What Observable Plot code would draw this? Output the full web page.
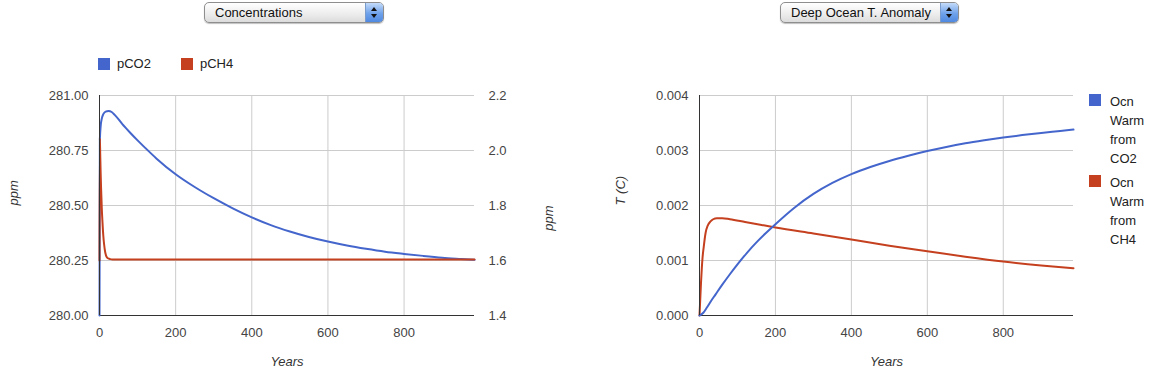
<!DOCTYPE html>
<html>
<head>
<meta charset="utf-8">
<script src="https://cdn.jsdelivr.net/npm/d3@7"></script>
<script src="https://cdn.jsdelivr.net/npm/@observablehq/plot@0.6"></script>
<style>
  html, body { margin: 0; padding: 0; background: #fff; }
  body { width: 1160px; height: 384px; position: relative; overflow: hidden;
         font-family: "Liberation Sans", Arial, sans-serif; color: #333; }
  .sel { position: absolute; top: 2px; height: 19px; border: 1px solid #8e8e8e;
         border-radius: 5px; background: linear-gradient(#ffffff, #ececec 60%, #dcdcdc);
         font-size: 13px; box-shadow: 0 1px 1px rgba(0,0,0,0.25); }
  .sel .txt { position: absolute; left: 10px; top: 2px; color: #111; white-space: nowrap; }
  .sel .btn { position: absolute; right: 0; top: 0; bottom: 0; width: 17px;
              background: linear-gradient(#c4dbfa, #6fa2ea 55%, #4f89e0);
              border-left: 1px solid #7a9ccc; border-radius: 0 4px 4px 0; }
  .sel .up, .sel .dn { position: absolute; left: 5px; width: 0; height: 0;
              border-left: 3.5px solid transparent; border-right: 3.5px solid transparent; }
  .sel .up { top: 4px; border-bottom: 4px solid #111; }
  .sel .dn { top: 11px; border-top: 4px solid #111; }
  .chart { position: absolute; top: 80px; }
  .lg { position: absolute; font-size: 13px; color: #222; }
  .sw { position: absolute; width: 12px; height: 12px; }
  .lgtext { position: absolute; font-size: 13px; line-height: 19px; color: #222; }
</style>
</head>
<body>
<div class="sel" style="left:204px;width:178px;"><span class="txt">Concentrations</span><div class="btn"><div class="up"></div><div class="dn"></div></div></div>
<div class="sel" style="left:780px;width:177px;"><span class="txt">Deep Ocean T. Anomaly</span><div class="btn"><div class="up"></div><div class="dn"></div></div></div>

<div id="legendL"></div>
<div id="legendR"></div>
<div id="left" class="chart" style="left:0px;"></div>
<div id="right" class="chart" style="left:600px;"></div>

<script>
// ---- Data ----
const seriesNamesLeft = ["pCO2", "pCH4"];
const seriesNamesRight = ["Ocn Warm from CO2", "Ocn Warm from CH4"];
const colors = ["#4466cc", "#c4401f"];

const co2Years = [0, 1, 3, 6, 10, 16, 24, 32, 40, 60, 80, 100, 120, 150, 200, 250, 300, 350, 400, 450, 500, 550, 600, 650, 700, 750, 800, 850, 900, 950, 985];
const co2Ppm   = [280.00, 280.80, 280.86, 280.895, 280.915, 280.927, 280.930, 280.925, 280.912, 280.87, 280.832, 280.796, 280.762, 280.713, 280.642, 280.584, 280.533, 280.487, 280.446, 280.411, 280.382, 280.357, 280.336, 280.318, 280.303, 280.29, 280.28, 280.271, 280.263, 280.257, 280.253];

const ch4Years = [0, 1, 2, 3, 4, 5, 6, 8, 10, 12, 15, 18, 22, 28, 35, 50, 200, 400, 600, 800, 985];
const ch4Ppm   = [1.600, 2.044, 1.98, 1.92, 1.87, 1.83, 1.79, 1.735, 1.69, 1.66, 1.63, 1.615, 1.608, 1.605, 1.604, 1.604, 1.604, 1.604, 1.604, 1.604, 1.604];

const ocnCo2Years = [0, 10, 20, 30, 42, 60, 80, 100, 125, 150, 175, 200, 250, 300, 350, 400, 450, 500, 550, 600, 650, 700, 750, 800, 850, 900, 950, 985];
const ocnCo2T     = [0, 0.00005, 0.00015, 0.00026, 0.00038, 0.00056, 0.00075, 0.00093, 0.00114, 0.00133, 0.0015, 0.00166, 0.00196, 0.00221, 0.00241, 0.00257, 0.0027, 0.00281, 0.002905, 0.00299, 0.003065, 0.00313, 0.003185, 0.003235, 0.00328, 0.00332, 0.003355, 0.00338];

const ocnCh4Years = [0, 2, 4, 6, 8, 11, 16, 22, 29, 36, 46, 60, 80, 120, 160, 200, 300, 400, 500, 600, 700, 800, 900, 985];
const ocnCh4T     = [0, 0.0003, 0.0006, 0.00085, 0.00105, 0.00124, 0.00150, 0.00164, 0.00171, 0.00175, 0.00177, 0.00177, 0.00175, 0.0017, 0.00165, 0.0016, 0.00149, 0.00138, 0.00127, 0.00117, 0.00107, 0.00098, 0.00091, 0.00086];

const xTicks = [0, 200, 400, 600, 800];
const yTicksLeft = [280.00, 280.25, 280.50, 280.75, 281.00];
const yTicksT = [0, 0.001, 0.002, 0.003, 0.004];

// ---- helpers ----
const co2 = co2Years.map((x, i) => ({x, y: co2Ppm[i]}));
const ch4 = ch4Years.map((x, i) => ({x, y: ch4Ppm[i]}));
const oc2 = ocnCo2Years.map((x, i) => ({x, y: ocnCo2T[i]}));
const oc4 = ocnCh4Years.map((x, i) => ({x, y: ocnCh4T[i]}));
// right axis (CH4, 1.4–2.2) mapped onto the left scale (280–281)
const ch4ToLeft = v => 280 + (v - 1.4) / 0.8;
const leftToCh4 = v => 1.4 + (v - 280) * 0.8;

const font = {fontSize: "13px", fontFamily: "'Liberation Sans', Arial, sans-serif", color: "#444", background: "transparent", overflow: "visible"};

const left = Plot.plot({
  width: 580, height: 300,
  marginLeft: 99, marginRight: 106, marginTop: 15, marginBottom: 65,
  style: font,
  x: {domain: [0, 985]},
  y: {domain: [280, 281]},
  marks: [
    Plot.gridY(yTicksLeft, {stroke: "#cccccc", strokeOpacity: 1}),
    Plot.gridX(xTicks.slice(1), {stroke: "#cccccc", strokeOpacity: 1}),
    Plot.ruleY([280], {stroke: "#333"}),
    Plot.line(co2, {x: "x", y: "y", stroke: colors[0], strokeWidth: 2, curve: "monotone-x"}),
    Plot.line(ch4, {x: "x", y: d => ch4ToLeft(d.y), stroke: colors[1], strokeWidth: 2, curve: "monotone-x"}),
    Plot.ruleX([0], {stroke: "#333"}),
    Plot.axisY(yTicksLeft, {anchor: "left", tickSize: 0, tickPadding: 11, tickFormat: d => d.toFixed(2), label: null, fill: "#444"}),
    Plot.axisY(yTicksLeft, {anchor: "right", tickSize: 0, tickPadding: 14, tickFormat: d => leftToCh4(d).toFixed(1), label: null, fill: "#444"}),
    Plot.axisX(xTicks, {tickSize: 0, tickPadding: 12, label: null, fill: "#444"}),
    Plot.text(["ppm"], {frameAnchor: "left", dx: -86, rotate: -90, fontStyle: "italic", fill: "#333"}),
    Plot.text(["ppm"], {frameAnchor: "right", dx: 74, rotate: -90, fontStyle: "italic", fill: "#333"}),
    Plot.text(["Years"], {frameAnchor: "bottom", dy: 50, fontStyle: "italic", fill: "#333"})
  ]
});
document.getElementById("left").appendChild(left);

const right = Plot.plot({
  width: 560, height: 300,
  marginLeft: 99, marginRight: 87, marginTop: 15, marginBottom: 65,
  style: font,
  x: {domain: [0, 985]},
  y: {domain: [0, 0.004]},
  marks: [
    Plot.gridY(yTicksT, {stroke: "#cccccc", strokeOpacity: 1}),
    Plot.gridX(xTicks.slice(1), {stroke: "#cccccc", strokeOpacity: 1}),
    Plot.ruleY([0], {stroke: "#333"}),
    Plot.line(oc4, {x: "x", y: "y", stroke: colors[1], strokeWidth: 2, curve: "monotone-x"}),
    Plot.line(oc2, {x: "x", y: "y", stroke: colors[0], strokeWidth: 2, curve: "monotone-x"}),
    Plot.ruleX([0], {stroke: "#333"}),
    Plot.axisY(yTicksT, {anchor: "left", tickSize: 0, tickPadding: 11, tickFormat: d => d.toFixed(3), label: null, fill: "#444"}),
    Plot.axisX(xTicks, {tickSize: 0, tickPadding: 12, label: null, fill: "#444"}),
    Plot.text(["T (C)"], {frameAnchor: "left", dx: -79, rotate: -90, fontStyle: "italic", fill: "#333"}),
    Plot.text(["Years"], {frameAnchor: "bottom", dy: 50, fontStyle: "italic", fill: "#333"})
  ]
});
document.getElementById("right").appendChild(right);

// ---- legends ----
const lgL = document.getElementById("legendL");
const lgLPos = [[98, 117], [181, 200]];
seriesNamesLeft.forEach((name, i) => {
  const sw = document.createElement("div");
  sw.className = "sw";
  sw.style.left = lgLPos[i][0] + "px"; sw.style.top = "58px"; sw.style.background = colors[i];
  lgL.appendChild(sw);
  const t = document.createElement("div");
  t.className = "lg";
  t.style.left = lgLPos[i][1] + "px"; t.style.top = "56px";
  t.textContent = name;
  lgL.appendChild(t);
});

const lgR = document.getElementById("legendR");
const lgRTop = [94, 175];
seriesNamesRight.forEach((name, i) => {
  const sw = document.createElement("div");
  sw.className = "sw";
  sw.style.left = "1089px"; sw.style.top = lgRTop[i] + "px"; sw.style.background = colors[i];
  lgR.appendChild(sw);
  const t = document.createElement("div");
  t.className = "lgtext";
  t.style.left = "1110px"; t.style.top = (lgRTop[i] - 2) + "px";
  t.innerHTML = name.split(" ").join("<br>");
  lgR.appendChild(t);
});
</script>
</body>
</html>
